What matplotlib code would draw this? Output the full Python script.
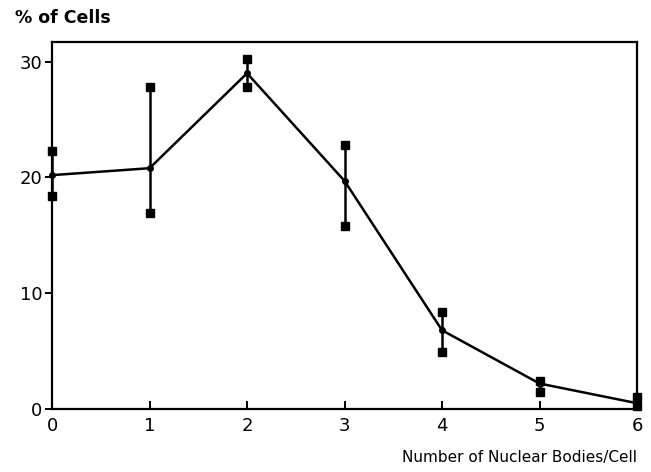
import matplotlib
matplotlib.use("Agg")
import matplotlib.pyplot as plt

nuclear_bodies = [0, 1, 2, 3, 4, 5, 6]
pct_mean = [20.2, 20.8, 29.0, 19.7, 6.8, 2.2, 0.5]
pct_upper = [22.3, 27.8, 30.2, 22.8, 8.4, 2.4, 1.0]
pct_lower = [18.4, 16.9, 27.8, 15.8, 4.9, 1.5, 0.3]
x_ticks = [0, 1, 2, 3, 4, 5, 6]
y_ticks = [0, 10, 20, 30]

plt.rcParams['font.family'] = ['DejaVu Sans']

fig = plt.figure(figsize=(6.51, 4.72), dpi=100)
ax = fig.add_axes([0.080, 0.1335, 0.8985, 0.7775])

ax.vlines(nuclear_bodies, pct_lower, pct_upper, colors='black', linewidth=1.8, clip_on=False, zorder=3)
ax.plot(nuclear_bodies, pct_upper, linestyle='none', marker='s', markersize=5.5, color='black', clip_on=False, zorder=4)
ax.plot(nuclear_bodies, pct_lower, linestyle='none', marker='s', markersize=5.5, color='black', clip_on=False, zorder=4)
ax.plot(nuclear_bodies, pct_mean, color='black', linewidth=1.8, marker='o', markersize=4, clip_on=False, zorder=5)

ax.set_xlim(0, 6)
ax.set_ylim(0, 31.7)
ax.set_xticks(x_ticks)
ax.set_yticks(y_ticks)
ax.tick_params(axis='x', direction='in', length=6, width=1.4, labelsize=13, pad=6)
ax.tick_params(axis='y', direction='out', length=5, width=1.4, labelsize=13, pad=2)
for s in ax.spines.values():
    s.set_linewidth(1.6)

fig.text(0.023, 0.962, '% of Cells', fontsize=12.5, fontweight='bold', ha='left', va='center')
fig.text(0.978, 0.03, 'Number of Nuclear Bodies/Cell', fontsize=11, ha='right', va='center')

fig.savefig('out.png', dpi=100)
